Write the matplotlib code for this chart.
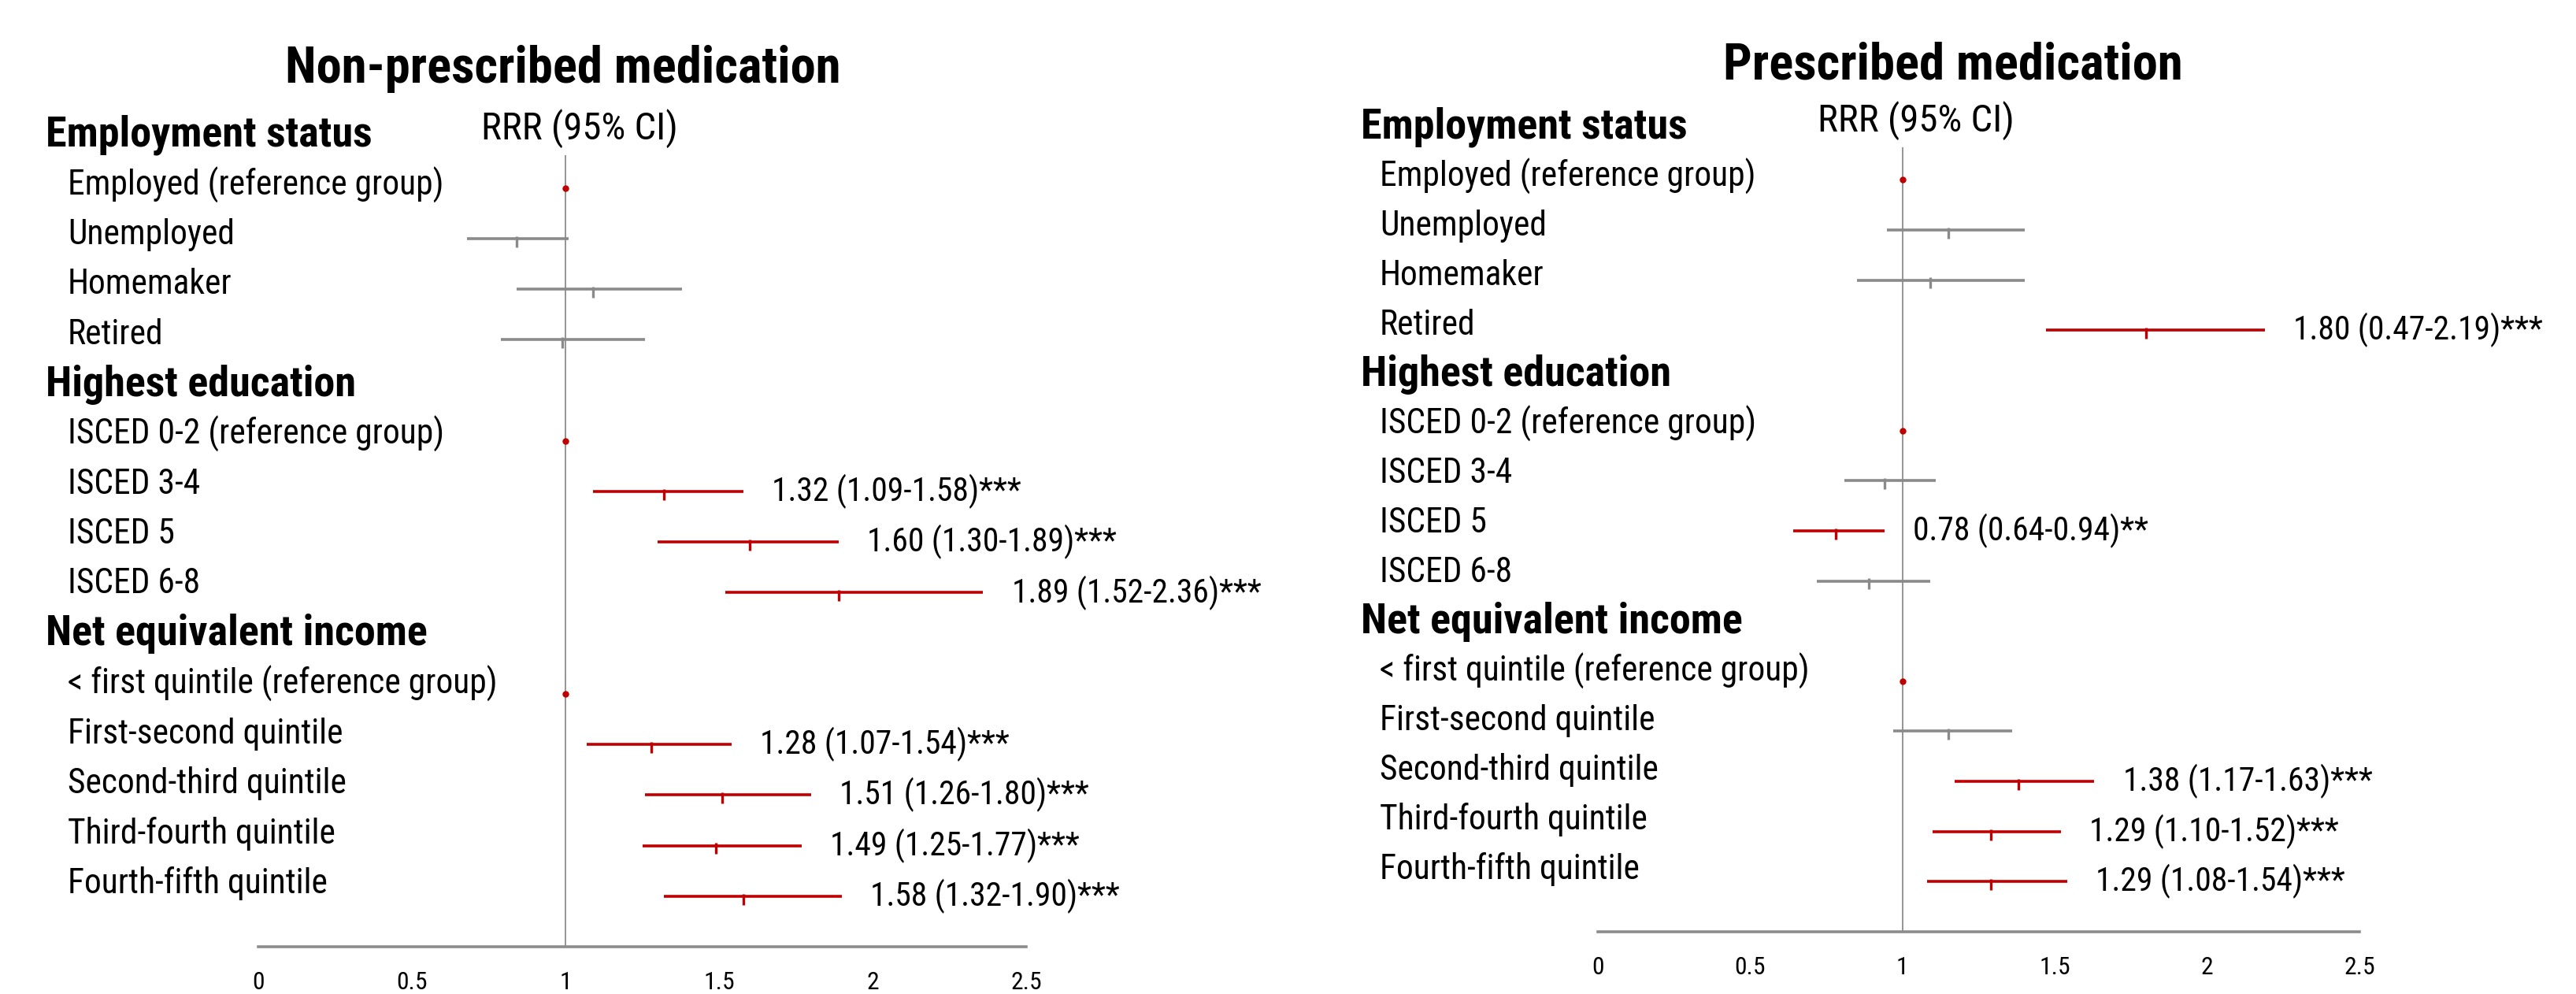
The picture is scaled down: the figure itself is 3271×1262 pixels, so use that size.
import matplotlib
matplotlib.use("Agg")
import matplotlib.pyplot as plt
from matplotlib import font_manager as fm
from matplotlib.transforms import blended_transform_factory

W, H, DPI = 3271, 1262, 100

# ---- font choice (condensed look of the original) ----
names = {f.name for f in fm.fontManager.ttflist}
FONT, FS = "DejaVu Sans", 0.75
for cand, scale in [("Liberation Sans Narrow", 1.0), ("DejaVu Sans Condensed", 0.82),
                    ("Roboto Condensed", 0.95), ("Liberation Sans", 0.82)]:
    if cand in names:
        FONT, FS = cand, scale
        break
plt.rcParams["font.family"] = [FONT, "DejaVu Sans"]

# ---- data ----
sections = ["Employment status", "Highest education", "Net equivalent income"]
employment_items = ["Employed (reference group)", "Unemployed", "Homemaker", "Retired"]
education_items = ["ISCED 0-2 (reference group)", "ISCED 3-4", "ISCED 5", "ISCED 6-8"]
income_items = ["< first quintile (reference group)", "First-second quintile",
                "Second-third quintile", "Third-fourth quintile", "Fourth-fifth quintile"]
tick_values = [0, 0.5, 1, 1.5, 2, 2.5]
tick_labels = ["0", "0.5", "1", "1.5", "2", "2.5"]

# Non-prescribed medication
np_rrr = [1.00, 0.84, 1.09, 0.99, 1.00, 1.32, 1.60, 1.89, 1.00, 1.28, 1.51, 1.49, 1.58]
np_lo = [1.00, 0.68, 0.84, 0.79, 1.00, 1.09, 1.30, 1.52, 1.00, 1.07, 1.26, 1.25, 1.32]
np_hi = [1.00, 1.01, 1.38, 1.26, 1.00, 1.58, 1.89, 2.36, 1.00, 1.54, 1.80, 1.77, 1.90]
np_sig = [False, False, False, False, False, True, True, True, False, True, True, True, True]
np_text = [None, None, None, None, None,
           "1.32 (1.09-1.58)***", "1.60 (1.30-1.89)***", "1.89 (1.52-2.36)***",
           None, "1.28 (1.07-1.54)***", "1.51 (1.26-1.80)***", "1.49 (1.25-1.77)***",
           "1.58 (1.32-1.90)***"]

# Prescribed medication
pm_rrr = [1.00, 1.15, 1.09, 1.80, 1.00, 0.94, 0.78, 0.89, 1.00, 1.15, 1.38, 1.29, 1.29]
pm_lo = [1.00, 0.95, 0.85, 1.47, 1.00, 0.81, 0.64, 0.72, 1.00, 0.97, 1.17, 1.10, 1.08]
pm_hi = [1.00, 1.40, 1.40, 2.19, 1.00, 1.11, 0.94, 1.09, 1.00, 1.36, 1.63, 1.52, 1.54]
pm_sig = [False, False, False, True, False, False, True, False, False, False, True, True, True]
pm_text = [None, None, None, "1.80 (0.47-2.19)***", None, None, "0.78 (0.64-0.94)**", None,
           None, None, "1.38 (1.17-1.63)***", "1.29 (1.10-1.52)***", "1.29 (1.08-1.54)***"]

RED = "#C00000"
GRAY = "#8A8A8A"
AXGRAY = "#8C8C8C"

fig = plt.figure(figsize=(W / DPI, H / DPI), dpi=DPI)
fig.patch.set_facecolor("white")


def axes_rect(x0, x1, ytop, ybot):
    return [x0 / W, 1 - ybot / H, (x1 - x0) / W, (ybot - ytop) / H]


def draw_panel(rect, title, title_xy, rrr_xy, head_x, item_x, rrr, lo, hi, sig, texts):
    ax = fig.add_axes(rect)
    ax.set_xlim(0, 2.5)
    ax.set_ylim(16.0, 0.35)
    for s in ("top", "right", "left"):
        ax.spines[s].set_visible(False)
    ax.spines["bottom"].set_color(AXGRAY)
    ax.spines["bottom"].set_linewidth(2.6)
    ax.set_yticks([])
    ax.set_xticks(tick_values)
    ax.set_xticklabels(tick_labels, fontsize=24 * FS)
    ax.tick_params(axis="x", length=0, pad=22)
    ax.axvline(1, color=AXGRAY, lw=1.3, zorder=1)

    tr = blended_transform_factory(fig.transFigure, ax.transData)
    all_items = [employment_items, education_items, income_items]
    rows = []
    r = 0
    for sec, items in zip(sections, all_items):
        ax.text(head_x / W, 0.9865 * r - 0.05, sec, transform=tr, ha="left", va="center",
                fontsize=41 * FS, fontweight="bold", color="black")
        r += 1
        for it in items:
            ax.text(item_x / W, 0.9865 * r - 0.05, it, transform=tr, ha="left", va="center",
                    fontsize=33 * FS, color="black")
            rows.append(r)
            r += 1

    for i, row in enumerate(rows):
        is_ref = lo[i] == hi[i]
        col = RED if (sig[i] or is_ref) else GRAY
        if is_ref:
            ax.plot([rrr[i]], [row], marker="o", ms=5, color=RED, mec=RED, zorder=3)
        else:
            ax.hlines(row, lo[i], hi[i], color=col, lw=2.6, zorder=2)
            ax.plot([rrr[i]], [row + 0.06], marker="|", ms=10, mew=2.4, color=col, zorder=3)
        if texts[i]:
            ax.annotate(texts[i], xy=(hi[i], row), xytext=(26, 0), textcoords="offset points",
                        ha="left", va="center", fontsize=31.5 * FS, color="black")

    fig.text(title_xy[0] / W, 1 - title_xy[1] / H, title, ha="center", va="center",
             fontsize=49 * FS, fontweight="bold")
    fig.text(rrr_xy[0] / W, 1 - rrr_xy[1] / H, "RRR (95% CI)", ha="center", va="center",
             fontsize=37 * FS)
    return ax


draw_panel(axes_rect(328, 1303, 197, 1202), "Non-prescribed medication", (715, 87), (736, 163),
           58, 86, np_rrr, np_lo, np_hi, np_sig, np_text)
draw_panel(axes_rect(2029, 2996, 187, 1183), "Prescribed medication", (2480, 83), (2433, 153),
           1728, 1752, pm_rrr, pm_lo, pm_hi, pm_sig, pm_text)

fig.savefig("out.png", dpi=DPI, facecolor="white")
